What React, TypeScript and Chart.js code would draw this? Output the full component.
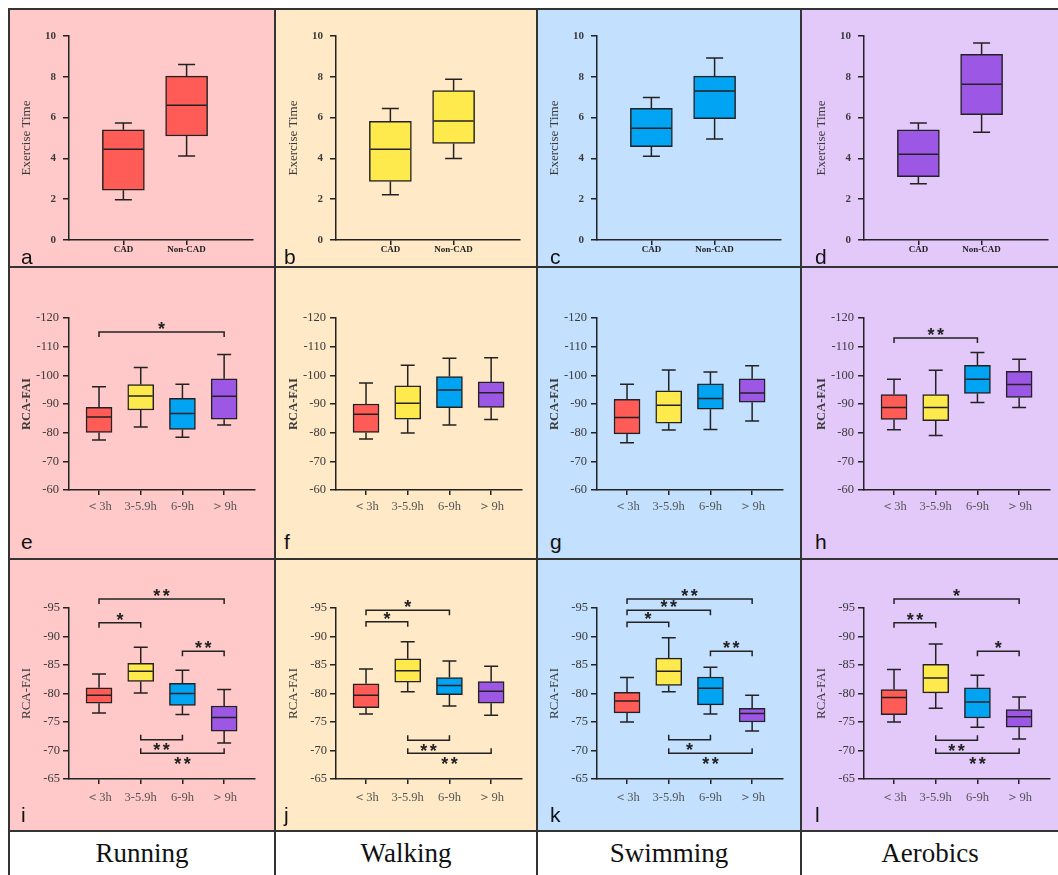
import { useEffect, useRef } from 'react';
import { Chart, registerables } from 'chart.js';

Chart.register(...registerables);

// ---------- data ----------
const SPORTS = ['Running', 'Walking', 'Swimming', 'Aerobics'];
const CAD_GROUPS = ['CAD', 'Non-CAD'];
const HOUR_GROUPS = ['＜3h', '3-5.9h', '6-9h', '＞9h'];
const PANEL_LETTERS = [
  ['a', 'b', 'c', 'd'],
  ['e', 'f', 'g', 'h'],
  ['i', 'j', 'k', 'l'],
];

// Each box: [lower whisker, Q1, median, Q3, upper whisker]
// Exercise time, CAD vs Non-CAD
const runningTime = [[1.97, 2.44, 4.45, 5.4, 5.73], [4.12, 5.1, 6.6, 8.03, 8.6]];
const walkingTime = [[2.22, 2.87, 4.45, 5.82, 6.45], [4.0, 4.73, 5.83, 7.32, 7.88]];
const swimmingTime = [[4.1, 4.58, 5.48, 6.45, 6.98], [4.95, 5.95, 7.3, 8.03, 8.92]];
const aerobicsTime = [[2.76, 3.1, 4.2, 5.4, 5.73], [5.28, 6.14, 7.64, 9.1, 9.66]];

// RCA-FAI by weekly exercise hours (wide range)
const runningFaiA = [
  [-77.4, -80.1, -85.5, -88.8, -96.0],
  [-82.0, -87.9, -92.8, -96.8, -102.7],
  [-78.4, -81.1, -86.7, -92.0, -96.9],
  [-82.7, -84.7, -92.7, -98.8, -107.3],
];
const walkingFaiA = [
  [-77.8, -80.1, -86.4, -90.0, -97.3],
  [-79.9, -84.7, -90.3, -96.3, -103.5],
  [-82.7, -88.7, -94.9, -99.6, -106.0],
  [-84.6, -88.8, -93.9, -97.7, -106.1],
];
const swimmingFaiA = [
  [-76.5, -79.6, -85.3, -91.6, -96.9],
  [-80.9, -83.3, -89.6, -94.6, -101.9],
  [-81.1, -88.2, -91.9, -97.0, -101.2],
  [-84.1, -90.6, -93.8, -98.8, -103.3],
];
const aerobicsFaiA = [
  [-81.0, -84.6, -88.8, -93.3, -98.6],
  [-79.0, -84.2, -88.8, -93.3, -101.8],
  [-90.5, -93.7, -98.6, -103.5, -108.0],
  [-88.8, -92.3, -96.8, -101.4, -105.6],
];

// RCA-FAI by weekly exercise hours (narrow range)
const runningFaiB = [
  [-76.6, -78.3, -79.7, -81.0, -83.4],
  [-80.1, -82.1, -83.9, -85.3, -88.1],
  [-76.3, -77.9, -80.0, -81.8, -84.1],
  [-71.3, -73.4, -75.8, -77.8, -80.7],
];
const walkingFaiB = [
  [-76.4, -77.5, -79.7, -81.7, -84.3],
  [-80.3, -82.0, -84.0, -86.1, -89.1],
  [-77.8, -79.8, -81.4, -82.8, -85.7],
  [-76.2, -78.3, -80.4, -82.1, -84.8],
];
const swimmingFaiB = [
  [-75.0, -76.6, -78.7, -80.2, -82.8],
  [-80.3, -81.4, -83.9, -86.2, -89.8],
  [-76.4, -78.0, -80.9, -82.9, -84.6],
  [-73.4, -75.0, -76.5, -77.4, -79.7],
];
const aerobicsFaiB = [
  [-75.0, -76.3, -79.3, -80.7, -84.2],
  [-77.4, -80.1, -82.7, -85.1, -88.7],
  [-74.1, -75.7, -78.5, -81.0, -83.2],
  [-72.0, -74.1, -75.9, -77.2, -79.4],
];

// Significance brackets: groups joined, level on the value axis, number of stars,
// and whether the bracket hangs under the boxes.
type Sig = { from: number; to: number; at: number; stars: number; below?: boolean };

const runningSigA: Sig[] = [{ from: 0, to: 3, at: -115.1, stars: 1 }];
const aerobicsSigA: Sig[] = [{ from: 0, to: 2, at: -113.0, stars: 2 }];

const runningSigB: Sig[] = [
  { from: 0, to: 3, at: -96.6, stars: 2 },
  { from: 0, to: 1, at: -92.4, stars: 1 },
  { from: 2, to: 3, at: -87.4, stars: 2 },
  { from: 1, to: 2, at: -71.9, stars: 2, below: true },
  { from: 1, to: 3, at: -69.5, stars: 2, below: true },
];
const walkingSigB: Sig[] = [
  { from: 0, to: 2, at: -94.6, stars: 1 },
  { from: 0, to: 1, at: -92.6, stars: 1 },
  { from: 1, to: 2, at: -71.8, stars: 2, below: true },
  { from: 1, to: 3, at: -69.5, stars: 2, below: true },
];
const swimmingSigB: Sig[] = [
  { from: 0, to: 3, at: -96.6, stars: 2 },
  { from: 0, to: 2, at: -94.6, stars: 2 },
  { from: 0, to: 1, at: -92.5, stars: 1 },
  { from: 2, to: 3, at: -87.4, stars: 2 },
  { from: 1, to: 2, at: -71.9, stars: 1, below: true },
  { from: 1, to: 3, at: -69.5, stars: 2, below: true },
];
const aerobicsSigB: Sig[] = [
  { from: 0, to: 3, at: -96.6, stars: 1 },
  { from: 0, to: 1, at: -92.4, stars: 2 },
  { from: 2, to: 3, at: -87.4, stars: 1 },
  { from: 1, to: 2, at: -71.8, stars: 2, below: true },
  { from: 1, to: 3, at: -69.5, stars: 2, below: true },
];

const ROWS_DATA = [
  [runningTime, walkingTime, swimmingTime, aerobicsTime],
  [runningFaiA, walkingFaiA, swimmingFaiA, aerobicsFaiA],
  [runningFaiB, walkingFaiB, swimmingFaiB, aerobicsFaiB],
];
const ROWS_SIG: Sig[][][] = [
  [[], [], [], []],
  [runningSigA, [], [], aerobicsSigA],
  [runningSigB, walkingSigB, swimmingSigB, aerobicsSigB],
];

// ---------- styles & layout ----------
const SERIF = "'Liberation Serif', 'Times New Roman', serif";
const SANS = "'Liberation Sans', Arial, sans-serif";
const INK = '#222';
const TEXT = '#3a3a3a';
const LINE = '#333';

const BOX_COLORS = ['#FF5B57', '#FFEA4D', '#00A4F2', '#9C57E4'];
const PANEL_BG = ['#FFC9C9', '#FFE9C6', '#C3E1FF', '#E3C9FA'];

const COL_EDGES = [8, 274, 536, 800, 1058];
const ROW_EDGES = [8, 266, 558, 830, 875];
const COL_AXIS_X = [69, 336, 597, 864];
const LETTER_LEFT = [21, 284, 550, 815];
const LETTER_BASELINE = [264, 549, 822];

const Y_AXIS_W = 61;
const PAD_TOP = 34;
const PAD_RIGHT = 6;
const X_AXIS_H = 34;

const ROW_STYLE = [
  {
    plotTop: 36, plotBottom: 240, plotWidth: 184, xMin: -0.86, xMax: 2.05,
    yMin: 0, yMax: 10, step: 2, reverse: false,
    title: 'Exercise Time', titleFont: { size: 13, weight: 'normal' },
    tickFont: { size: 11, weight: 'bold' }, tickPad: 7,
    xFont: { size: 9, weight: 'bold' }, xPad: -1, xColor: INK,
    barWidth: 42, capWidth: 17,
  },
  {
    plotTop: 318, plotBottom: 490, plotWidth: 186, xMin: -0.72, xMax: 3.74,
    yMin: -120, yMax: -60, step: 10, reverse: true,
    title: 'RCA-FAI', titleFont: { size: 12.5, weight: 'bold' },
    tickFont: { size: 12.5, weight: 'normal' }, tickPad: 4,
    xFont: { size: 12.5, weight: 'normal' }, xPad: 4.5, xColor: '#555',
    barWidth: 26, capWidth: 14,
  },
  {
    plotTop: 608, plotBottom: 779, plotWidth: 186, xMin: -0.72, xMax: 3.74,
    yMin: -95, yMax: -65, step: 5, reverse: true,
    title: 'RCA-FAI', titleFont: { size: 13, weight: 'normal' },
    tickFont: { size: 12.5, weight: 'normal' }, tickPad: 3,
    xFont: { size: 12.5, weight: 'normal' }, xPad: 6.5, xColor: '#555',
    barWidth: 26, capWidth: 14,
  },
];

function BoxPanel({ row, col }: { row: number; col: number }) {
  const ref = useRef<HTMLCanvasElement>(null);
  const st = ROW_STYLE[row];
  const left = COL_AXIS_X[col] - Y_AXIS_W;
  const top = st.plotTop - PAD_TOP;
  const width = Y_AXIS_W + st.plotWidth + PAD_RIGHT;
  const height = PAD_TOP + (st.plotBottom - st.plotTop) + X_AXIS_H;

  useEffect(() => {
    const stats = ROWS_DATA[row][col];
    const groups = row === 0 ? CAD_GROUPS : HOUR_GROUPS;
    const colors = row === 0 ? groups.map(() => BOX_COLORS[col]) : BOX_COLORS;
    const sig = ROWS_SIG[row][col];

    // whiskers, medians and significance brackets
    const boxPlugin = {
      id: 'boxWhiskers',
      afterDatasetsDraw(chart: any) {
        const { ctx } = chart;
        const xs = chart.scales.x;
        const ys = chart.scales.y;
        const meta = chart.getDatasetMeta(0);
        ctx.save();
        ctx.strokeStyle = INK;
        ctx.lineWidth = 1.5;
        ctx.lineCap = 'butt';
        meta.data.forEach((el: any, i: number) => {
          const { x, width: w } = el.getProps(['x', 'width'], true);
          const [lo, q1, med, q3, hi] = stats[i].map((v: number) => ys.getPixelForValue(v));
          const half = w / 2;
          const cap = st.capWidth / 2;
          ctx.beginPath();
          ctx.moveTo(x, q1); ctx.lineTo(x, lo);
          ctx.moveTo(x - cap, lo); ctx.lineTo(x + cap, lo);
          ctx.moveTo(x, q3); ctx.lineTo(x, hi);
          ctx.moveTo(x - cap, hi); ctx.lineTo(x + cap, hi);
          ctx.moveTo(x - half + 1, med); ctx.lineTo(x + half - 1, med);
          ctx.stroke();
        });

        ctx.fillStyle = INK;
        ctx.font = `bold 18px ${SANS}`;
        ctx.textAlign = 'center';
        ctx.textBaseline = 'alphabetic';
        const m = ctx.measureText('*');
        const glyphShift = (m.actualBoundingBoxAscent - m.actualBoundingBoxDescent) / 2;
        sig.forEach((b) => {
          const x1 = xs.getPixelForValue(b.from);
          const x2 = xs.getPixelForValue(b.to);
          const y = ys.getPixelForValue(b.at);
          const dir = b.below ? -1 : 1;
          ctx.beginPath();
          ctx.moveTo(x1, y + dir * 5);
          ctx.lineTo(x1, y);
          ctx.lineTo(x2, y);
          ctx.lineTo(x2, y + dir * 5);
          ctx.stroke();
          const cx = (x1 + x2) / 2;
          const cy = b.below ? y + 7 : y - 6.5;
          for (let k = 0; k < b.stars; k++) {
            const sx = cx + (k - (b.stars - 1) / 2) * 9.5;
            ctx.fillText('*', sx, cy + glyphShift);
          }
        });
        ctx.restore();
      },
    };

    const axisGrid = (tickLength: number) => ({
      display: true,
      drawOnChartArea: false,
      drawTicks: true,
      offset: false,
      tickLength,
      tickWidth: 1.5,
      tickColor: INK,
      color: INK,
      lineWidth: 1.5,
    });

    const chart = new Chart(ref.current as HTMLCanvasElement, {
      type: 'bar',
      data: {
        datasets: [
          {
            data: stats.map((s: number[], i: number) => ({ x: i, y: [s[1], s[3]] })) as any,
            backgroundColor: colors,
            borderColor: INK,
            borderWidth: 1.5,
            borderSkipped: false,
            barThickness: st.barWidth,
          },
        ],
      },
      options: {
        animation: false,
        responsive: false,
        maintainAspectRatio: false,
        events: [],
        layout: { padding: { left: 0, top: PAD_TOP, right: PAD_RIGHT, bottom: 0 } },
        plugins: { legend: { display: false }, tooltip: { enabled: false } },
        scales: {
          x: {
            type: 'linear',
            min: st.xMin,
            max: st.xMax,
            offset: false,
            afterBuildTicks: (s: any) => {
              s.ticks = groups.map((_, i) => ({ value: i }));
            },
            afterFit: (s: any) => {
              s.height = X_AXIS_H;
            },
            ticks: {
              autoSkip: false,
              maxRotation: 0,
              padding: st.xPad,
              color: st.xColor,
              font: { family: SERIF, size: st.xFont.size, weight: st.xFont.weight as any },
              callback: (v: any) => groups[Math.round(Number(v))] ?? '',
            },
            grid: axisGrid(5) as any,
            border: { display: true, color: INK, width: 1.5 },
          },
          y: {
            type: 'linear',
            min: st.yMin,
            max: st.yMax,
            reverse: st.reverse,
            beginAtZero: false,
            afterFit: (s: any) => {
              s.width = Y_AXIS_W;
            },
            ticks: {
              stepSize: st.step,
              padding: st.tickPad,
              color: TEXT,
              font: { family: SERIF, size: st.tickFont.size, weight: st.tickFont.weight as any },
              callback: (v: any) => String(v),
            },
            grid: axisGrid(6) as any,
            border: { display: true, color: INK, width: 1.5 },
            title: {
              display: true,
              text: st.title,
              color: TEXT,
              font: { family: SERIF, size: st.titleFont.size, weight: st.titleFont.weight as any, lineHeight: 1.2 },
              padding: { top: 18.5 - st.titleFont.size * 0.6, bottom: 0 },
            },
          },
        },
      } as any,
      plugins: [boxPlugin as any],
    });
    return () => chart.destroy();
  }, [row, col]);

  return (
    <canvas
      ref={ref}
      width={width}
      height={height}
      style={{ position: 'absolute', left, top, width, height }}
    />
  );
}

export default function App() {
  const cells = [];
  for (let r = 0; r < 3; r++) {
    for (let c = 0; c < 4; c++) {
      cells.push(
        <div
          key={`bg-${r}-${c}`}
          style={{
            position: 'absolute',
            left: COL_EDGES[c],
            top: ROW_EDGES[r],
            width: COL_EDGES[c + 1] - COL_EDGES[c],
            height: ROW_EDGES[r + 1] - ROW_EDGES[r],
            background: PANEL_BG[c],
          }}
        />
      );
    }
  }

  const lines = [];
  for (let r = 0; r < 4; r++) {
    lines.push(
      <div
        key={`h-${r}`}
        style={{ position: 'absolute', left: 8, top: ROW_EDGES[r], width: 1050, height: 2, background: LINE }}
      />
    );
  }
  for (let c = 0; c < 4; c++) {
    lines.push(
      <div
        key={`v-${c}`}
        style={{ position: 'absolute', left: COL_EDGES[c], top: 8, width: 2, height: 867, background: LINE }}
      />
    );
  }

  const panels = [];
  const letters = [];
  for (let r = 0; r < 3; r++) {
    for (let c = 0; c < 4; c++) {
      panels.push(<BoxPanel key={`p-${r}-${c}`} row={r} col={c} />);
      letters.push(
        <div
          key={`l-${r}-${c}`}
          style={{
            position: 'absolute',
            left: LETTER_LEFT[c],
            top: LETTER_BASELINE[r] - 18,
            fontFamily: SANS,
            fontSize: 21,
            lineHeight: '21px',
            color: '#111',
          }}
        >
          {PANEL_LETTERS[r][c]}
        </div>
      );
    }
  }

  const sportLabels = SPORTS.map((s, c) => (
    <div
      key={s}
      style={{
        position: 'absolute',
        left: COL_EDGES[c] + 2,
        top: ROW_EDGES[3] + 2,
        width: COL_EDGES[c + 1] - COL_EDGES[c] - 2,
        height: ROW_EDGES[4] - ROW_EDGES[3] - 2,
        display: 'flex',
        alignItems: 'center',
        justifyContent: 'center',
        fontFamily: SERIF,
        fontSize: 27,
        color: '#111',
      }}
    >
      {s}
    </div>
  ));

  return (
    <div
      style={{
        position: 'absolute',
        left: 0,
        top: 0,
        width: 1058,
        height: 875,
        background: '#fff',
        overflow: 'hidden',
      }}
    >
      {cells}
      {lines}
      {panels}
      {letters}
      {sportLabels}
    </div>
  );
}
